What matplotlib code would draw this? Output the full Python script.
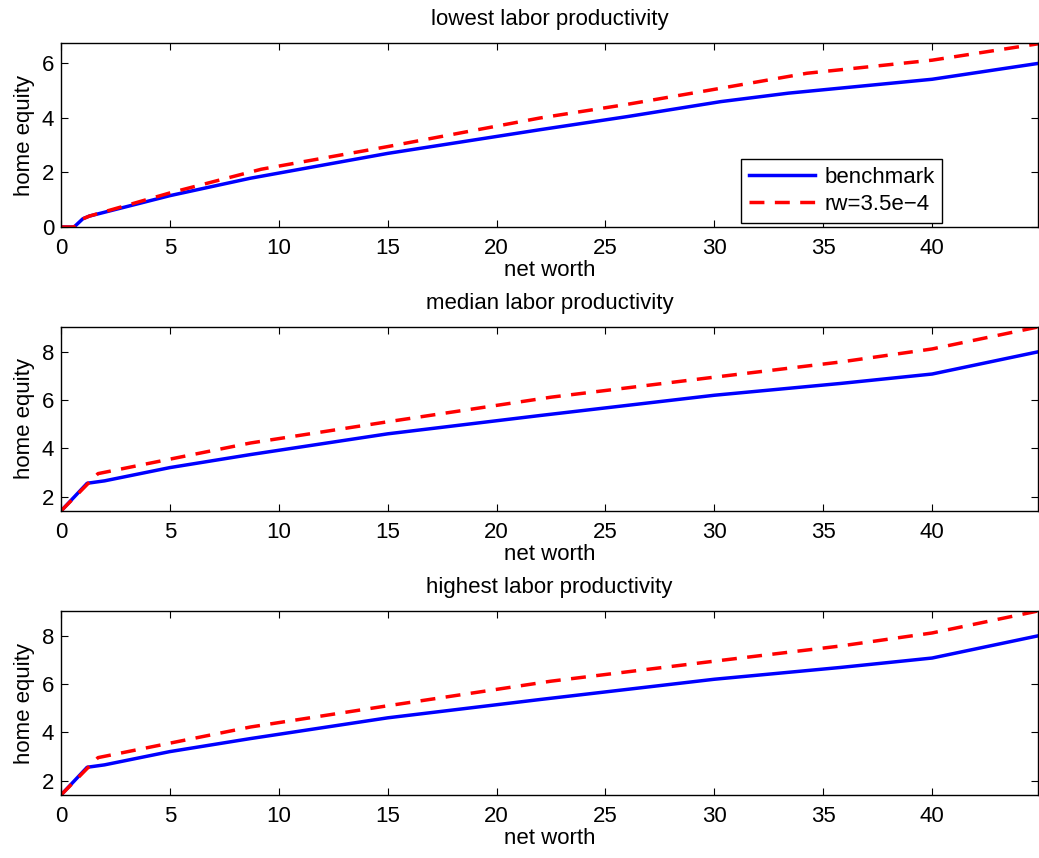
import matplotlib
matplotlib.use("Agg")
import matplotlib.pyplot as plt

plt.rcParams['font.family'] = ['Liberation Sans', 'DejaVu Sans']

# ---- data ----
low_x_bench = [0.0, 0.6, 1.0, 1.3, 5.0, 8.7, 15.0, 22.0, 26.0, 30.3, 33.4, 40.0, 44.86]
low_y_bench = [0.0, 0.0, 0.3, 0.4, 1.15, 1.79, 2.70, 3.57, 4.05, 4.60, 4.91, 5.42, 6.00]
low_x_rw = [0.0, 0.6, 1.0, 1.3, 5.0, 9.2, 15.0, 22.0, 26.0, 30.0, 34.25, 40.0, 44.86]
low_y_rw = [0.0, 0.0, 0.3, 0.4, 1.25, 2.12, 2.95, 4.00, 4.50, 5.05, 5.64, 6.12, 6.72]

med_x_bench = [0.0, 1.2, 2.0, 5.0, 8.7, 15.0, 22.0, 30.0, 35.8, 40.0, 44.86]
med_y_bench = [1.40, 2.55, 2.65, 3.20, 3.74, 4.60, 5.36, 6.20, 6.69, 7.08, 8.00]
med_x_rw = [0.0, 1.2, 1.7, 5.0, 8.7, 15.0, 22.5, 30.0, 35.8, 40.0, 44.86]
med_y_rw = [1.40, 2.50, 2.95, 3.55, 4.22, 5.10, 6.12, 6.95, 7.58, 8.12, 9.03]

high_x_bench = [0.0, 1.2, 2.0, 5.0, 8.7, 15.0, 22.0, 30.0, 35.8, 40.0, 44.86]
high_y_bench = [1.40, 2.55, 2.65, 3.20, 3.74, 4.60, 5.36, 6.20, 6.69, 7.08, 8.00]
high_x_rw = [0.0, 1.2, 1.7, 5.0, 8.7, 15.0, 22.5, 30.0, 35.8, 40.0, 44.86]
high_y_rw = [1.40, 2.50, 2.95, 3.55, 4.22, 5.10, 6.12, 6.95, 7.58, 8.12, 9.03]

titles = ["lowest labor productivity", "median labor productivity", "highest labor productivity"]
series_labels = ["benchmark", "rw=3.5e\u22124"]
xticks = [0, 5, 10, 15, 20, 25, 30, 35, 40]
yticks_low = [0, 2, 4, 6]
yticks_other = [2, 4, 6, 8]

panels = [
    (low_x_bench, low_y_bench, low_x_rw, low_y_rw, yticks_low, (0.0, 6.75)),
    (med_x_bench, med_y_bench, med_x_rw, med_y_rw, yticks_other, (1.40, 9.03)),
    (high_x_bench, high_y_bench, high_x_rw, high_y_rw, yticks_other, (1.40, 9.03)),
]

W, H = 1039, 858
fig = plt.figure(figsize=(W / 100, H / 100), dpi=100)

tops = [43, 327, 611]
left, right = 61, 1038
height = 184

fs = 16
for i, (xb, yb, xr, yr, yt, ylim) in enumerate(panels):
    top = tops[i]
    ax = fig.add_axes([left / W, 1 - (top + height) / H, (right - left) / W, height / H])
    ax.plot(xb, yb, color='#0000ff', lw=2.5, label=series_labels[0])
    ax.plot(xr, yr, color='#ff0000', lw=2.5, ls='--', dashes=(4.3, 3.0), label=series_labels[1])
    ax.set_xlim(0, 44.86)
    ax.set_ylim(*ylim)
    ax.set_xticks(xticks)
    ax.set_yticks(yt)
    ax.tick_params(direction='in', top=True, right=True, length=5, width=0.8,
                   labelsize=fs, colors='black')
    ax.tick_params(axis='x', pad=8)
    ax.tick_params(axis='y', pad=5)
    for s in ax.spines.values():
        s.set_linewidth(1.0)
    ax.set_title(titles[i], fontsize=fs, pad=13)
    ax.set_xlabel("net worth", fontsize=fs, labelpad=1)
    ax.set_ylabel("home equity", fontsize=fs, labelpad=5)
    if i == 0:
        leg = ax.legend(loc='lower right', bbox_to_anchor=(0.902, 0.022), fontsize=fs,
                        frameon=True, fancybox=False, edgecolor='black', framealpha=1,
                        handlelength=3.0, borderpad=0.35, labelspacing=0.3, handletextpad=0.4,
                        borderaxespad=0)
        leg.get_frame().set_linewidth(1.0)

fig.savefig("out.png", dpi=100)
